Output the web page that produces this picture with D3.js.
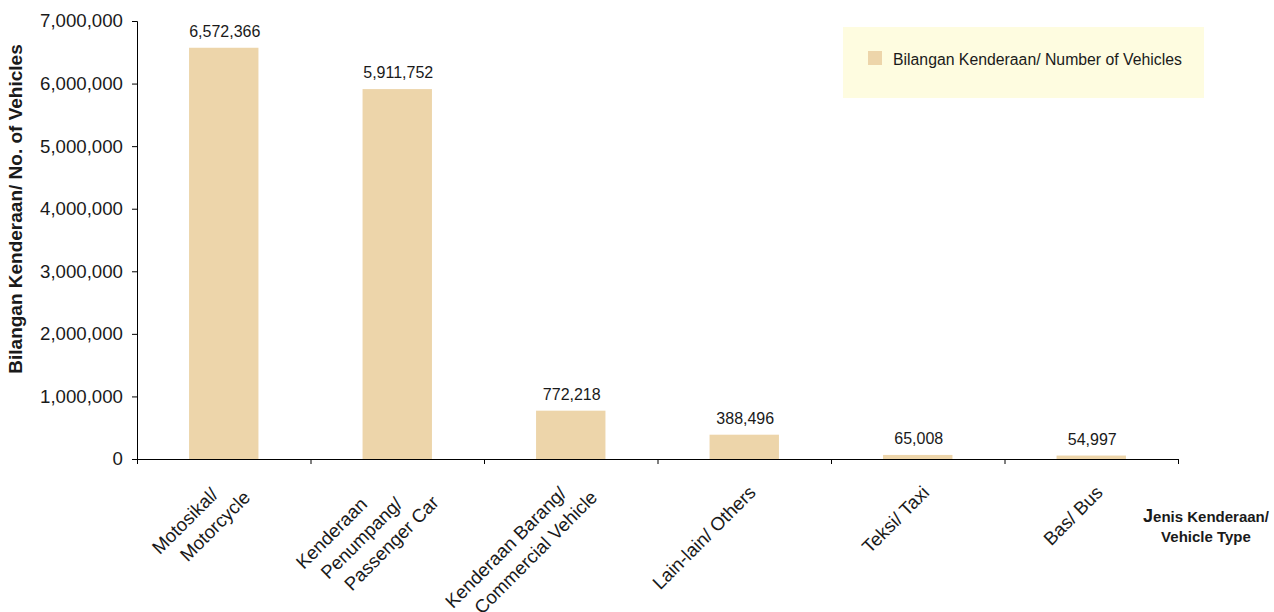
<!DOCTYPE html>
<html>
<head>
<meta charset="utf-8">
<script src="https://cdn.jsdelivr.net/npm/d3@7"></script>
<style>
  html, body { margin: 0; padding: 0; background: #fff; }
  svg { display: block; font-family: "Liberation Sans", Arial, Helvetica, sans-serif; }
</style>
</head>
<body>
<svg id="chart" width="1274" height="612"></svg>
<script>
// ---- data ----
const categories = [
  ["Motosikal/", "Motorcycle"],
  ["Kenderaan", "Penumpang/", "Passenger Car"],
  ["Kenderaan Barang/", "Commercial Vehicle"],
  ["Lain-lain/ Others"],
  ["Teksi/ Taxi"],
  ["Bas/ Bus"]
];
const values = [6572366, 5911752, 772218, 388496, 65008, 54997];
const yTicks = [0, 1000000, 2000000, 3000000, 4000000, 5000000, 6000000, 7000000];
const seriesName = "Bilangan Kenderaan/ Number of Vehicles";
const yTitle = "Bilangan Kenderaan/ No. of Vehicles";
const xTitle = ["enis Kenderaan/", "Vehicle Type"];

// ---- layout ----
const svg = d3.select("#chart");
const plotLeft = 137, plotRight = 1178, plotTop = 21, plotBottom = 459;
const barColor = "#EDD5AA";
const textColor = "#1a1a1a";

const x = d3.scaleBand().domain(d3.range(categories.length)).range([plotLeft, plotRight]).padding(0);
const xEdges = d3.scaleLinear().domain([0, categories.length]).range([plotLeft, plotRight]);
const y = d3.scaleLinear().domain([0, 7000000]).range([plotBottom, plotTop]);

// legend box
const lg = svg.append("g");
lg.append("rect").attr("x", 843).attr("y", 27).attr("width", 361).attr("height", 71).attr("fill", "#FEFCE0");
lg.append("rect").attr("x", 868).attr("y", 51).attr("width", 14).attr("height", 14).attr("fill", barColor);
lg.append("text").attr("x", 893).attr("y", 65).attr("font-size", 15.8).attr("fill", textColor).text(seriesName);

// bars
const bw = x.bandwidth();
svg.append("g").selectAll("rect").data(values).join("rect")
  .attr("x", (d, i) => x(i) + bw * 0.3)
  .attr("width", bw * 0.4)
  .attr("y", d => y(d))
  .attr("height", d => y(0) - y(d))
  .attr("fill", barColor);

// value labels
svg.append("g").selectAll("text").data(values).join("text")
  .attr("x", (d, i) => x(i) + bw / 2 + 1)
  .attr("y", d => y(d) - 11)
  .attr("text-anchor", "middle")
  .attr("font-size", 16)
  .attr("fill", textColor)
  .text(d => d3.format(",")(d));

// y axis
const yAxis = svg.append("g").attr("transform", `translate(${plotLeft},0)`)
  .call(d3.axisLeft(y).tickValues(yTicks).tickSize(5).tickPadding(9).tickFormat(d3.format(",")));
yAxis.selectAll("text").attr("font-size", 18.67).attr("fill", textColor);
yAxis.attr("font-family", null).attr("font-size", null);
yAxis.selectAll("line,path").attr("stroke", "#000");

// x axis (edges)
const xAxis = svg.append("g").attr("transform", `translate(0,${plotBottom})`)
  .call(d3.axisBottom(xEdges).tickValues(d3.range(categories.length + 1)).tickSize(5).tickSizeOuter(0).tickFormat(""));
xAxis.selectAll("line,path").attr("stroke", "#000");

// x category labels (rotated -45)
const S = 30, t = 5, capHalf = 4.7;
categories.forEach((lines, ci) => {
  const cx = x(ci) + bw / 2;
  const g = svg.append("g");
  const texts = lines.map(l => g.append("text")
    .attr("font-size", 18.67).attr("fill", textColor).attr("text-anchor", "middle").text(l));
  const widths = texts.map(tx => tx.node().getComputedTextLength());
  const W = d3.max(widths) * Math.SQRT1_2;
  const refX = cx + 8, refY = plotBottom + 30;
  const n = lines.length;
  texts.forEach((tx, i) => {
    const mx = refX - W / 2 + (i - (n - 1) / 2) * S + capHalf;
    const my = refY + W / 2 + i * t + capHalf;
    tx.attr("transform", `translate(${mx},${my}) rotate(-45)`);
  });
});

// y title
svg.append("text")
  .attr("transform", "translate(22,209) rotate(-90)")
  .attr("text-anchor", "middle").attr("font-size", 19).attr("font-weight", "bold")
  .attr("fill", textColor).text(yTitle);

// x title
const xt = svg.append("text").attr("x", 1206).attr("y", 522).attr("text-anchor", "middle")
  .attr("font-size", 15).attr("font-weight", "bold").attr("fill", textColor);
xt.append("tspan").attr("font-size", 18).text("J");
xt.append("tspan").text(xTitle[0]);
svg.append("text").attr("x", 1206).attr("y", 542).attr("text-anchor", "middle")
  .attr("font-size", 15).attr("font-weight", "bold").attr("fill", textColor).text(xTitle[1]);
</script>
</body>
</html>
